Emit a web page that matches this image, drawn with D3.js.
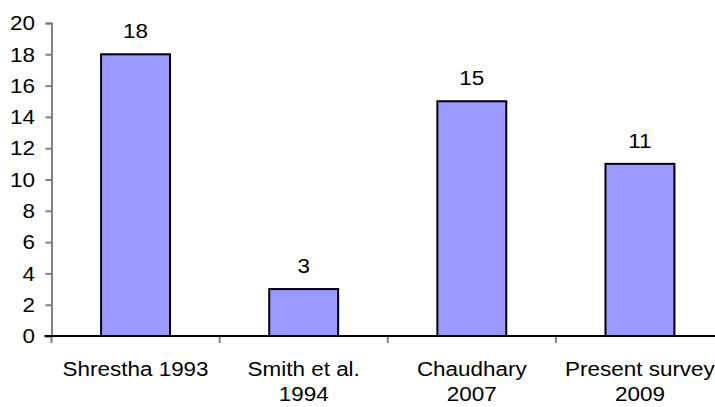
<!DOCTYPE html>
<html>
<head>
<meta charset="utf-8">
<script src="https://cdn.jsdelivr.net/npm/d3@7"></script>
<style>
  body { margin: 0; background: #fff; }
  text { font-family: "Liberation Sans", Arial, sans-serif; fill: #000; }
</style>
</head>
<body>
<div id="chart"></div>
<script>
// data
const categories = [["Shrestha 1993"], ["Smith et al.", "1994"], ["Chaudhary", "2007"], ["Present survey", "2009"]];
const values = [18, 3, 15, 11];
const yTicks = [0, 2, 4, 6, 8, 10, 12, 14, 16, 18, 20];

const W = 715, H = 407;
const plot = { left: 51.5, right: 724, top: 23, bottom: 336 };
const fontSize = "21px";
const stretch = 1.07; // source text is a bit wider than Arial

const svg = d3.select("#chart").append("svg")
    .attr("width", W).attr("height", H);

const x = d3.scaleBand()
    .domain(categories.map((d, i) => i))
    .range([plot.left, plot.right])
    .paddingInner(0.59)
    .paddingOuter(0.295);

const y = d3.scaleLinear().domain([0, 20]).range([plot.bottom, plot.top]);

// y axis
const yAxis = svg.append("g")
    .attr("transform", `translate(${plot.left},0)`)
    .call(d3.axisLeft(y).tickValues(yTicks).tickSize(6).tickPadding(7));
yAxis.select(".domain").attr("stroke", "#808080").attr("stroke-width", 2);
yAxis.selectAll(".tick line").attr("stroke", "#808080").attr("stroke-width", 2);
yAxis.selectAll(".tick text")
    .style("font-size", fontSize)
    .attr("x", -16.5 / stretch)
    .attr("transform", `scale(${stretch},1)`);
yAxis.attr("font-family", null);

// x axis ticks at band boundaries
const bounds = d3.range(categories.length + 1).map(i => plot.left + i * x.step());
svg.append("g").selectAll("line")
    .data(bounds).join("line")
    .attr("x1", d => d).attr("x2", d => d)
    .attr("y1", plot.bottom).attr("y2", plot.bottom + 7)
    .attr("stroke", "#808080").attr("stroke-width", 2);

svg.append("line")
    .attr("x1", plot.left - 7).attr("x2", W)
    .attr("y1", plot.bottom).attr("y2", plot.bottom)
    .attr("stroke", "#000").attr("stroke-width", 2);

// bars
svg.append("g").selectAll("rect")
    .data(values).join("rect")
    .attr("x", (d, i) => x(i))
    .attr("y", d => y(d))
    .attr("width", x.bandwidth())
    .attr("height", d => y(0) - y(d))
    .attr("fill", "#9999FF")
    .attr("stroke", "#000")
    .attr("stroke-width", 2);

// value labels
svg.append("g").selectAll("text")
    .data(values).join("text")
    .attr("transform", (d, i) => `translate(${x(i) + x.bandwidth() / 2},${y(d) - 16}) scale(${stretch},1)`)
    .attr("text-anchor", "middle")
    .style("font-size", fontSize)
    .text(d => d);

// category labels
const cat = svg.append("g").selectAll("text")
    .data(categories).join("text")
    .attr("transform", (d, i) => `translate(${x(i) + x.bandwidth() / 2},376) scale(${stretch},1)`)
    .attr("text-anchor", "middle")
    .style("font-size", fontSize);
cat.selectAll("tspan")
    .data(d => d).join("tspan")
    .attr("x", 0)
    .attr("dy", (d, i) => i === 0 ? 0 : 25)
    .text(d => d);
</script>
</body>
</html>
